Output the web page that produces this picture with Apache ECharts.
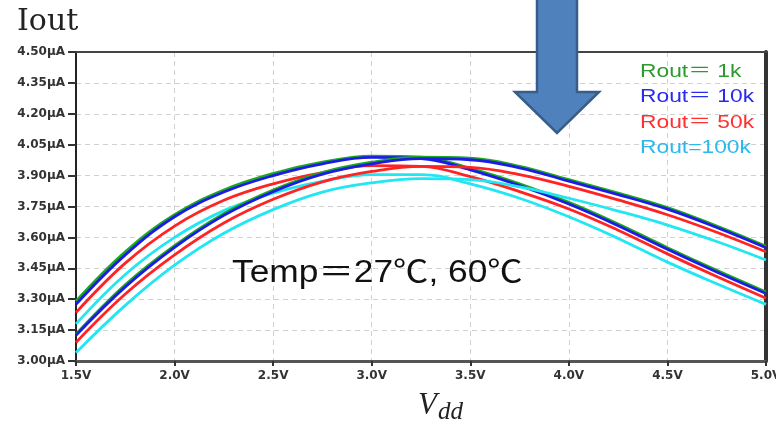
<!DOCTYPE html>
<html>
<head>
<meta charset="utf-8">
<script src="https://cdn.jsdelivr.net/npm/echarts@6/dist/echarts.min.js"></script>
<style>
  html, body { margin: 0; padding: 0; background: #fff; }
  #main { width: 776px; height: 426px; }
</style>
</head>
<body>
<div id="main"></div>
<script>
// Vdd sweep (V)
const vdd = [1.5, 1.75, 2.0, 2.25, 2.5, 2.75, 3.0, 3.25, 3.5, 3.75, 4.0, 4.25, 4.5, 4.75, 5.0]

// curve set that starts high and falls steeply (µA)
const green1 = [3.29, 3.53, 3.71, 3.83, 3.91, 3.965, 3.995, 3.99, 3.935, 3.86, 3.77, 3.665, 3.55, 3.44, 3.335]
const blue1  = [3.275, 3.515, 3.70, 3.82, 3.90, 3.957, 3.988, 3.983, 3.928, 3.852, 3.762, 3.657, 3.542, 3.432, 3.328]
const red1   = [3.235, 3.475, 3.655, 3.78, 3.86, 3.915, 3.948, 3.945, 3.895, 3.822, 3.738, 3.635, 3.52, 3.41, 3.305]
const cyan1  = [3.18, 3.42, 3.60, 3.73, 3.815, 3.872, 3.905, 3.905, 3.86, 3.79, 3.70, 3.595, 3.48, 3.375, 3.275]

// curve set that starts low and falls gently (µA)
const green2 = [3.13, 3.37, 3.56, 3.715, 3.83, 3.915, 3.965, 3.99, 3.985, 3.945, 3.88, 3.815, 3.745, 3.655, 3.557]
const blue2  = [3.125, 3.36, 3.552, 3.707, 3.822, 3.907, 3.957, 3.982, 3.977, 3.938, 3.873, 3.808, 3.737, 3.648, 3.55]
const red2   = [3.09, 3.325, 3.515, 3.67, 3.785, 3.87, 3.92, 3.945, 3.94, 3.905, 3.848, 3.782, 3.71, 3.625, 3.53]
const cyan2  = [3.04, 3.27, 3.465, 3.62, 3.735, 3.82, 3.865, 3.885, 3.88, 3.845, 3.79, 3.728, 3.66, 3.58, 3.49]

const names = ['Rout＝ 1k', 'Rout＝ 10k', 'Rout＝ 50k', 'Rout=100k']
const colors = ['#1fa81f', '#1c1ce6', '#ff2424', '#22e6f2']
const legendColors = ['#2e9a2e', '#2a2aee', '#ff3030', '#2ab8ee']

function pts(ys) { return vdd.map((v, i) => [v, ys[i]]) }

function initChart() {
  const chartDom = document.getElementById('main')
  const myChart = echarts.init(chartDom)
  const sets = [[green1, blue1, red1, cyan1], [green2, blue2, red2, cyan2]]
  const series = []
  sets.forEach(set => {
    set.forEach((ys, k) => {
      series.push({
        name: names[k], type: 'line', smooth: 0.4, showSymbol: false, symbol: 'none',
        lineStyle: { color: colors[k], width: 2.8 }, itemStyle: { color: colors[k] },
        data: pts(ys)
      })
    })
  })
  const labelStyle = { color: '#333', fontSize: 12, fontWeight: 'bold', fontFamily: '"DejaVu Sans", sans-serif' }
  const legendTexts = names.map((n, k) => ({
    type: 'text', x: 640, y: 62 + k * 25.5, scaleX: 1.2, z: 15,
    style: { text: n, fill: legendColors[k], font: '19px "Liberation Sans", "Noto Sans CJK SC", sans-serif' }
  }))
  const option = {
    animation: false,
    grid: { left: 76, right: 10, top: 52, bottom: 65, outerBoundsMode: 'none' },
    xAxis: [{
      type: 'value', min: 1.5, max: 5.0, interval: 0.5,
      axisLine: { lineStyle: { color: '#555', width: 3 } },
      axisTick: { show: true, length: 5, lineStyle: { color: '#333', width: 2 } },
      axisLabel: Object.assign({ margin: 9, formatter: v => v.toFixed(1) + 'V' }, labelStyle),
      splitLine: { show: true, lineStyle: { color: '#d0d0d0', type: [5, 4], width: 1 } }
    }, {
      type: 'value', position: 'top', min: 1.5, max: 5.0, interval: 0.5,
      axisLine: { show: true, lineStyle: { color: '#444', width: 2 } },
      axisTick: { show: false }, axisLabel: { show: false }, splitLine: { show: false }
    }],
    yAxis: [{
      type: 'value', min: 3.0, max: 4.5, interval: 0.15,
      axisLine: { show: true, lineStyle: { color: '#222', width: 2 } },
      axisTick: { show: true, length: 8, lineStyle: { color: '#333', width: 2 } },
      axisLabel: Object.assign({ margin: 11, formatter: v => v.toFixed(2) + 'µA' }, labelStyle),
      splitLine: { show: true, lineStyle: { color: '#d0d0d0', type: [5, 4], width: 1 } }
    }, {
      type: 'value', position: 'right', min: 3.0, max: 4.5, interval: 0.15,
      axisLine: { show: true, lineStyle: { color: '#333', width: 4 } },
      axisTick: { show: false }, axisLabel: { show: false }, splitLine: { show: false }
    }],
    graphic: [
      { type: 'text', left: 17, top: 7, style: { text: 'Iout', fill: '#222', font: '30px "DejaVu Serif", "Liberation Serif", serif' } },
      { type: 'text', x: 232, y: 258, scaleX: 1.14, z: 10, style: { text: 'Temp＝27℃, 60℃', fill: '#111', font: '31px "Liberation Sans", "Noto Sans CJK SC", sans-serif' } },
      {
        type: 'text', left: 418, top: 390, style: {
          text: '{v|V}{d|dd}',
          rich: {
            v: { font: 'italic 31px "Liberation Serif", "DejaVu Serif", serif', fill: '#222' },
            d: { font: 'italic 25px "Liberation Serif", "DejaVu Serif", serif', fill: '#222', padding: [14, 0, 0, 1] }
          }
        }
      },
      {
        type: 'polygon', z: 20,
        shape: { points: [[537, -5], [577, -5], [577, 92], [599, 92], [557, 133], [515, 92], [537, 92]] },
        style: { fill: '#4f81bd', stroke: '#385d8a', lineWidth: 2.5 }
      }
    ].concat(legendTexts),
    series
  }
  option && myChart.setOption(option)
}
initChart()
</script>
</body>
</html>
